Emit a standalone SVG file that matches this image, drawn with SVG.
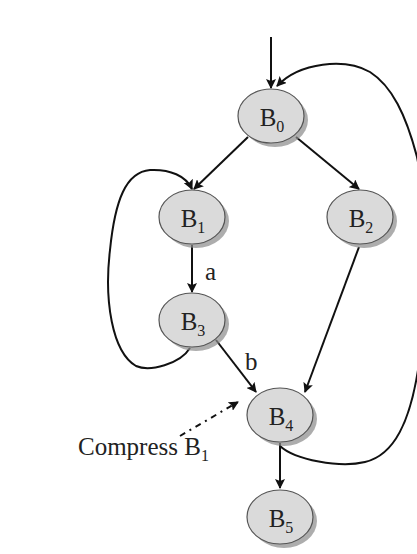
<svg xmlns="http://www.w3.org/2000/svg" width="417" height="554" viewBox="0 0 417 554">
<style>
.node ellipse.body{fill:#dadada;stroke:#555;stroke-width:1.2}
.node ellipse.shadow{fill:#8a8a8a;opacity:0.7}
text{font-family:"Liberation Serif","Times New Roman",serif;fill:#222}
.lbl{font-size:25px}
.sub{font-size:16px}
.edge{fill:none;stroke:#111;stroke-width:2}
</style>
<defs>
<marker id="arr" viewBox="0 0 10 10" refX="9" refY="5" markerWidth="10" markerHeight="10" markerUnits="userSpaceOnUse" orient="auto">
<path d="M0,0 L10,5 L0,10 L2,5 Z" fill="#111"/>
</marker>
</defs>
<g id="connectors">
<path class="edge" d="M271,37 L271,88" marker-end="url(#arr)"/>
<path class="edge" d="M248,137 L194,189" marker-end="url(#arr)"/>
<path class="edge" d="M296,137 L359,189" marker-end="url(#arr)"/>
<path class="edge" d="M192,245 L192,292" marker-end="url(#arr)"/>
<path class="edge" d="M216,340 L256,392" marker-end="url(#arr)"/>
<path class="edge" d="M359,247 L305,392" marker-end="url(#arr)"/>
<path class="edge" d="M280,443 L280,488" marker-end="url(#arr)"/>
<path class="edge" d="M280,446 C295,460 340,468 365,462 C395,455 410,420 418,370 C426,320 426,200 417,157 C406,115 392,86 370,72 C345,58 300,62 277,86" marker-end="url(#arr)"/>
<path class="edge" d="M190,348 C180,364 150,372 136,366 C112,352 104,300 110,250 C115,200 126,172 150,170 C170,169 186,176 192,189" marker-end="url(#arr)"/>
<path class="edge" d="M180,436 L238,402" stroke-dasharray="6,5,2,5" marker-end="url(#arr)"/>
<text class="lbl" x="205" y="280" font-size="24">a</text>
<text class="lbl" x="245" y="370" font-size="24">b</text>
<text class="lbl" x="78" y="455">Compress B<tspan class="sub" dy="6">1</tspan></text>
</g>
<g id="B0" class="node"><ellipse class="shadow" cx="275" cy="120" rx="33" ry="27"/><ellipse class="body" cx="271" cy="116" rx="33" ry="27"/><text class="lbl" x="272" y="126" text-anchor="middle">B<tspan class="sub" dy="6">0</tspan></text></g>
<g id="B1" class="node"><ellipse class="shadow" cx="196" cy="221" rx="33" ry="27"/><ellipse class="body" cx="192" cy="217" rx="33" ry="27"/><text class="lbl" x="193" y="227" text-anchor="middle">B<tspan class="sub" dy="6">1</tspan></text></g>
<g id="B2" class="node"><ellipse class="shadow" cx="364" cy="221" rx="33" ry="27"/><ellipse class="body" cx="360" cy="217" rx="33" ry="27"/><text class="lbl" x="361" y="227" text-anchor="middle">B<tspan class="sub" dy="6">2</tspan></text></g>
<g id="B3" class="node"><ellipse class="shadow" cx="196" cy="324" rx="33" ry="27"/><ellipse class="body" cx="192" cy="320" rx="33" ry="27"/><text class="lbl" x="193" y="330" text-anchor="middle">B<tspan class="sub" dy="6">3</tspan></text></g>
<g id="B4" class="node"><ellipse class="shadow" cx="284" cy="419" rx="33" ry="27"/><ellipse class="body" cx="280" cy="415" rx="33" ry="27"/><text class="lbl" x="281" y="425" text-anchor="middle">B<tspan class="sub" dy="6">4</tspan></text></g>
<g id="B5" class="node"><ellipse class="shadow" cx="284" cy="521" rx="33" ry="27"/><ellipse class="body" cx="280" cy="517" rx="33" ry="27"/><text class="lbl" x="281" y="527" text-anchor="middle">B<tspan class="sub" dy="6">5</tspan></text></g>
</svg>
